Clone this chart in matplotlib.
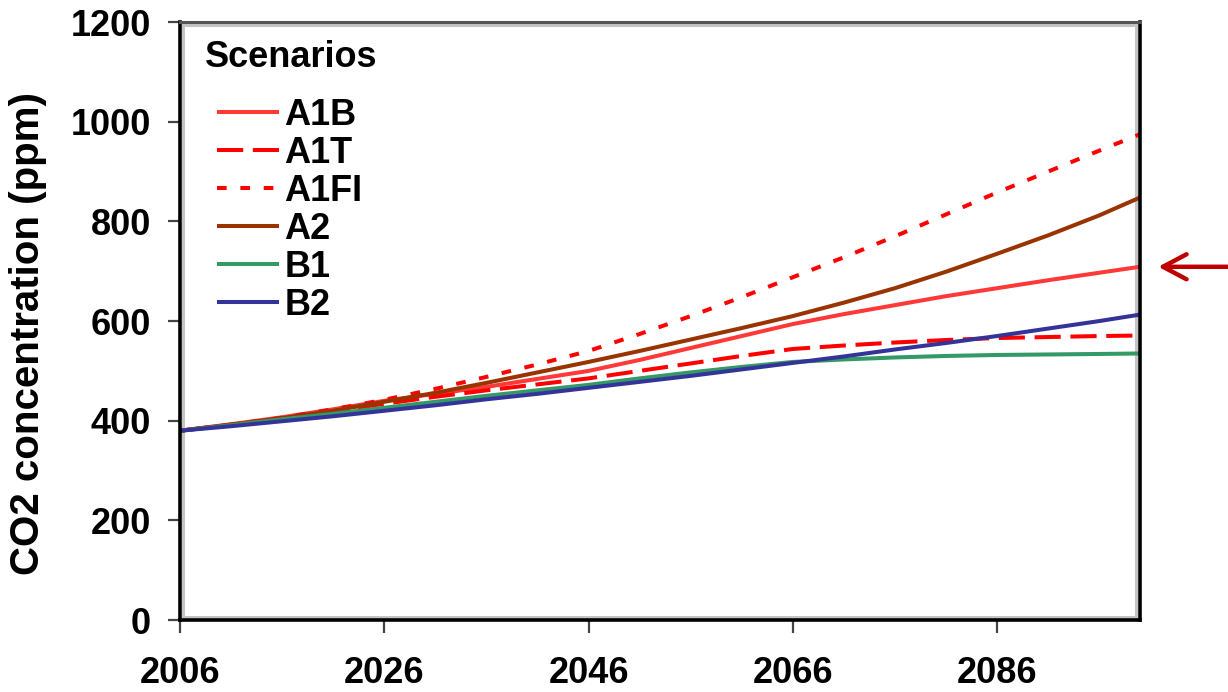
import matplotlib
matplotlib.use("Agg")
import matplotlib.pyplot as plt
from matplotlib.patches import Rectangle

# Projected atmospheric CO2 concentration (ppm) under the SRES scenarios
years = [2006, 2011, 2016, 2021, 2026, 2031, 2036, 2041, 2046, 2051,
         2056, 2061, 2066, 2071, 2076, 2081, 2086, 2091, 2096, 2100]
a1b  = [380, 393, 407, 423, 440, 454, 468, 484, 500, 522,
        546, 570, 594, 614, 632, 650, 666, 682, 697, 709]
a1t  = [380, 392, 405, 419, 434, 448, 461, 473, 485, 500,
        515, 530, 544, 551, 557, 562, 566, 568, 570, 571]
a1fi = [380, 392, 406, 423, 442, 464, 488, 513, 540, 574,
        610, 648, 688, 728, 770, 814, 858, 900, 942, 975]
a2   = [380, 392, 405, 420, 438, 456, 476, 497, 518, 540,
        563, 586, 610, 637, 666, 699, 735, 772, 812, 848]
b1   = [380, 391, 403, 414, 426, 438, 450, 461, 472, 485,
        497, 508, 518, 523, 527, 530, 532, 533, 534, 535]
b2   = [380, 389, 399, 409, 420, 431, 443, 454, 466, 478,
        490, 503, 516, 529, 543, 556, 570, 585, 600, 613]

scenario_names = ["A1B", "A1T", "A1FI", "A2", "B1", "B2"]
scenario_values = [a1b, a1t, a1fi, a2, b1, b2]
scenario_colors = ["#FF3838", "#FF0000", "#FF0000", "#993300", "#339966", "#333399"]
scenario_styles = ["-", (0, (6.5, 2.4)), (0, (2.4, 3.4)), "-", "-", "-"]

x_ticks = [2006, 2026, 2046, 2066, 2086]
y_ticks = [0, 200, 400, 600, 800, 1000, 1200]

plt.rcParams["font.family"] = ["Liberation Sans", "DejaVu Sans"]
FS = 26

fig = plt.figure(figsize=(12.28, 6.92), dpi=100)
ax = fig.add_axes([0.1466, 0.104, 0.7817, 0.864])

handles = []
for name, vals, col, ls in zip(scenario_names, scenario_values,
                                scenario_colors, scenario_styles):
    ln, = ax.plot(years, vals, color=col, linestyle=ls, lw=2.9,
                  solid_capstyle="butt", dash_capstyle="butt", label=name)
    handles.append(ln)

ax.set_xlim(2006, 2100)
ax.set_ylim(0, 1200)
ax.set_xticks(x_ticks)
ax.set_yticks(y_ticks)
ax.tick_params(axis="both", direction="out", length=9, width=1.6,
               color="#444444", labelsize=FS)
ax.tick_params(axis="x", pad=17)
ax.tick_params(axis="y", pad=12)
for lab in ax.get_xticklabels() + ax.get_yticklabels():
    lab.set_fontweight("bold")

ax.set_ylabel("CO2 concentration (ppm)", fontsize=29, fontweight="bold")
ax.yaxis.set_label_coords(-0.139, 0.48)

# plot-area frame: dark outer border with a soft grey inner rim
for side in ["left", "bottom", "right"]:
    ax.spines[side].set_color("black")
    ax.spines[side].set_linewidth(2.6)
ax.spines["top"].set_color("#555555")
ax.spines["top"].set_linewidth(2.2)
ax.add_patch(Rectangle((0.003, 0.005), 0.993, 0.99, transform=ax.transAxes,
                       fill=False, edgecolor="#C4C4C4", lw=2.2, zorder=0.5))

ax.text(0.026, 0.9415, "Scenarios", transform=ax.transAxes, fontsize=FS,
        fontweight="bold", ha="left", va="center")
leg = ax.legend(handles=handles, loc="upper left",
                bbox_to_anchor=(0.039, 0.873), frameon=False,
                prop={"weight": "bold", "size": FS},
                handlelength=1.7, handletextpad=0.15, labelspacing=0.08,
                borderpad=0, borderaxespad=0)

# marker arrow pointing at the end of the A1B curve
ax.annotate("", xy=(1.019, a1b[-1]), xytext=(1.095, a1b[-1]),
            xycoords=("axes fraction", "data"),
            textcoords=("axes fraction", "data"),
            annotation_clip=False,
            arrowprops=dict(arrowstyle="->,head_length=0.85,head_width=0.45",
                            color="#C00000", lw=3.2, mutation_scale=20,
                            shrinkA=0, shrinkB=0))

fig.savefig("out.png", dpi=100)
